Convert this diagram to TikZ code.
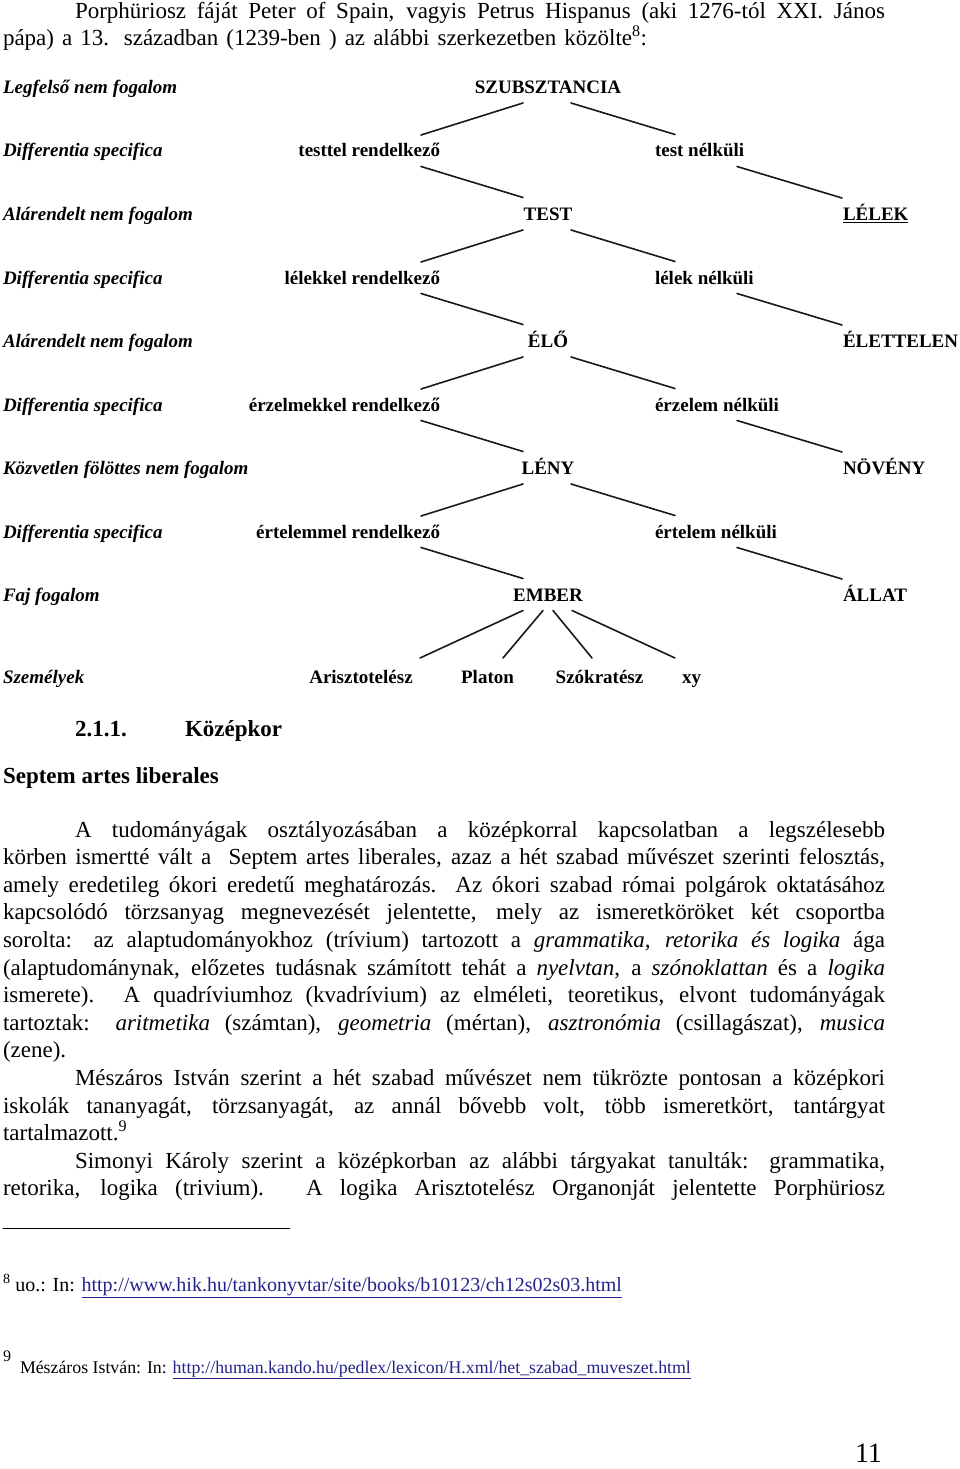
\documentclass[tikz,border=0pt]{standalone}
\usepackage{fontspec}
\setmainfont{Liberation Serif}
\usetikzlibrary{positioning}
\definecolor{LinkBlue}{RGB}{35,35,140}
\newcommand{\TreeFont}{\fontsize{19}{22}\selectfont\bfseries}
\newcommand{\LevelFont}{\fontsize{19}{22}\selectfont\bfseries\itshape}
\newcommand{\BodyFont}{\fontsize{23}{27}\selectfont}
\newcommand{\NoteFont}{\fontsize{20}{23}\selectfont}
\newcommand{\jline}[2]{\makebox[#1pt][s]{#2}}

\begin{document}
\begin{tikzpicture}[x=1pt,y=-1pt,line cap=round,
  txt/.style={inner sep=0pt,outer sep=0pt},
  level/.style={txt,anchor=base west,font=\LevelFont},
  concept/.style={txt,anchor=base,font=\TreeFont},
  leftdiff/.style={txt,anchor=base east,font=\TreeFont},
  rightdiff/.style={txt,anchor=base west,font=\TreeFont},
  rightcol/.style={txt,anchor=base west,font=\TreeFont},
  edge/.style={line width=1.6pt,black!90},
  body/.style={txt,anchor=base west,font=\BodyFont},
  head/.style={txt,anchor=base west,font=\BodyFont\bfseries},
  note/.style={txt,anchor=base west,font=\NoteFont}]
  \path[use as bounding box,fill=white] (0,0) rectangle (960,1469);

  % opening lines
  \node[body] (top1) at (75,18.5) {\jline{810}{Porphüriosz fáját Peter of Spain, vagyis Petrus Hispanus (aki 1276-tól XXI. János}};
  \node[body] (top2) at (3,46) {\jline{644}{pápa) a 13. században (1239-ben ) az alábbi szerkezetben közölte\textsuperscript{8}:}};

  % level names
  \node[level] (lv1) at (3,93.5) {Legfelső nem fogalom};
  \node[level] (lv2) at (3,157) {Differentia specifica};
  \node[level] (lv3) at (3,220.5) {Alárendelt nem fogalom};
  \node[level] (lv4) at (3,284) {Differentia specifica};
  \node[level] (lv5) at (3,347.5) {Alárendelt nem fogalom};
  \node[level] (lv6) at (3,411) {Differentia specifica};
  \node[level] (lv7) at (3,474.5) {Közvetlen fölöttes nem fogalom};
  \node[level] (lv8) at (3,538) {Differentia specifica};
  \node[level] (lv9) at (3,601.5) {Faj fogalom};
  \node[level] (lv10) at (3,683) {Személyek};

  % the tree
  \node[concept] (szub) at (548,93.5) {SZUBSZTANCIA};
  \node[leftdiff] (testtel) at (440,157) {testtel rendelkező};
  \node[rightdiff] (testnelk) at (655,157) {test nélküli};
  \node[concept] (test) at (548,220.5) {TEST};
  \node[rightcol] (lelek) at (843,220.5) {\underline{LÉLEK}};
  \node[leftdiff] (lelekkel) at (440,284) {lélekkel rendelkező};
  \node[rightdiff] (leleknelk) at (655,284) {lélek nélküli};
  \node[concept] (elo) at (548,347.5) {ÉLŐ};
  \node[rightcol] (elettelen) at (843,347.5) {ÉLETTELEN};
  \node[leftdiff] (erzelmekkel) at (440,411) {érzelmekkel rendelkező};
  \node[rightdiff] (erzelemnelk) at (655,411) {érzelem nélküli};
  \node[concept] (leny) at (548,474.5) {LÉNY};
  \node[rightcol] (noveny) at (843,474.5) {NÖVÉNY};
  \node[leftdiff] (ertelemmel) at (440,538) {értelemmel rendelkező};
  \node[rightdiff] (ertelemnelk) at (655,538) {értelem nélküli};
  \node[concept] (ember) at (548,601.5) {EMBER};
  \node[rightcol] (allat) at (843,601.5) {ÁLLAT};
  \node[concept] (arisz) at (361,683) {Arisztotelész};
  \node[concept] (platon) at (487.5,683) {Platon};
  \node[concept] (szokr) at (599.5,683) {Szókratész};
  \node[concept] (xy) at (691.5,683) {xy};

  \foreach \p/\l/\r/\c/\o in {szub/testtel/testnelk/test/lelek,test/lelekkel/leleknelk/elo/elettelen,
    elo/erzelmekkel/erzelemnelk/leny/noveny,leny/ertelemmel/ertelemnelk/ember/allat}{
    \draw[edge] ([shift={(-25,9.5)}]\p.base) -- ([shift={(-19,-22)}]\l.base east);
    \draw[edge] ([shift={(23,9.5)}]\p.base) -- ([shift={(20,-22.5)}]\r.base west);
    \draw[edge] ([shift={(-19,9.5)}]\l.base east) -- ([shift={(-25,-23)}]\c.base);
    \draw[edge] ([shift={(82,9.5)}]\r.base west) -- ([shift={(-1,-22.5)}]\o.base west);
  }
  \foreach \n/\dx/\tx in {arisz/-25/59,platon/-5/15.5,szokr/5/-7.5,xy/24/-16.5}
    \draw[edge] ([shift={(\dx,9)}]ember.base) -- ([shift={(\tx,-25)}]\n.base);

  % section
  \node[head] (secnum) at (75,736) {2.1.1.};
  \node[head] (sectitle) at (185,736) {Középkor};
  \node[head] (subtitle) at (3,783) {Septem artes liberales};

  % paragraphs
  \node[body] (p1) at (75,837) {\jline{810}{A tudományágak osztályozásában a középkorral kapcsolatban a legszélesebb}};
  \node[body] (p2) at (3,864.6) {\jline{882}{körben ismertté vált a \ Septem artes liberales, azaz a hét szabad művészet szerinti felosztás,}};
  \node[body] (p3) at (3,892.2) {\jline{882}{amely eredetileg ókori eredetű meghatározás. Az ókori szabad római polgárok oktatásához}};
  \node[body] (p4) at (3,919.8) {\jline{882}{kapcsolódó törzsanyag megnevezését jelentette, mely az ismeretköröket két csoportba}};
  \node[body] (p5) at (3,947.4) {\jline{882}{sorolta: az alaptudományokhoz (trívium) tartozott a \textit{grammatika, retorika és logika} ága}};
  \node[body] (p6) at (3,975) {\jline{882}{(alaptudománynak, előzetes tudásnak számított tehát a \textit{nyelvtan}, a \textit{szónoklattan} és a \textit{logika}}};
  \node[body] (p7) at (3,1002.6) {\jline{882}{ismerete). A quadríviumhoz (kvadrívium) az elméleti, teoretikus, elvont tudományágak}};
  \node[body] (p8) at (3,1030.2) {\jline{882}{tartoztak: \textit{aritmetika} (számtan), \textit{geometria} (mértan), \textit{asztronómia} (csillagászat), \textit{musica}}};
  \node[body] (p9) at (3,1057.8) {(zene).};
  \node[body] (p10) at (75,1085.4) {\jline{810}{Mészáros István szerint a hét szabad művészet nem tükrözte pontosan a középkori}};
  \node[body] (p11) at (3,1113) {\jline{882}{iskolák tananyagát, törzsanyagát, az annál bővebb volt, több ismeretkört, tantárgyat}};
  \node[body] (p12) at (3,1140.6) {tartalmazott.\textsuperscript{9}};
  \node[body] (p13) at (75,1168.2) {\jline{810}{Simonyi Károly szerint a középkorban az alábbi tárgyakat tanulták: grammatika,}};
  \node[body] (p14) at (3,1195.8) {\jline{882}{retorika, logika (trivium). A logika Arisztotelész Organonját jelentette Porphüriosz}};

  % footnotes
  \draw[line width=0.8pt] (3,1228) -- (290,1228);
  \node[note] (fn8) at (3,1291) {\textsuperscript{8} uo.: In: {\color{LinkBlue}\underline{http://www.hik.hu/tankonyvtar/site/books/b10123/ch12s02s03.html}}};
  \node[note,font=\fontsize{16}{18}\selectfont] (fn9mark) at (3,1361) {9};
  \node[note,font=\fontsize{17.8}{21}\selectfont] (fn9) at (20,1373) {Mészáros István: In: {\color{LinkBlue}\underline{http://human.kando.hu/pedlex/lexicon/H.xml/het\_szabad\_muveszet.html}}};
  \node[body,font=\fontsize{28}{31}\selectfont,text depth=0pt] (pagenum) at (855,1462) {11};
\end{tikzpicture}
\end{document}
